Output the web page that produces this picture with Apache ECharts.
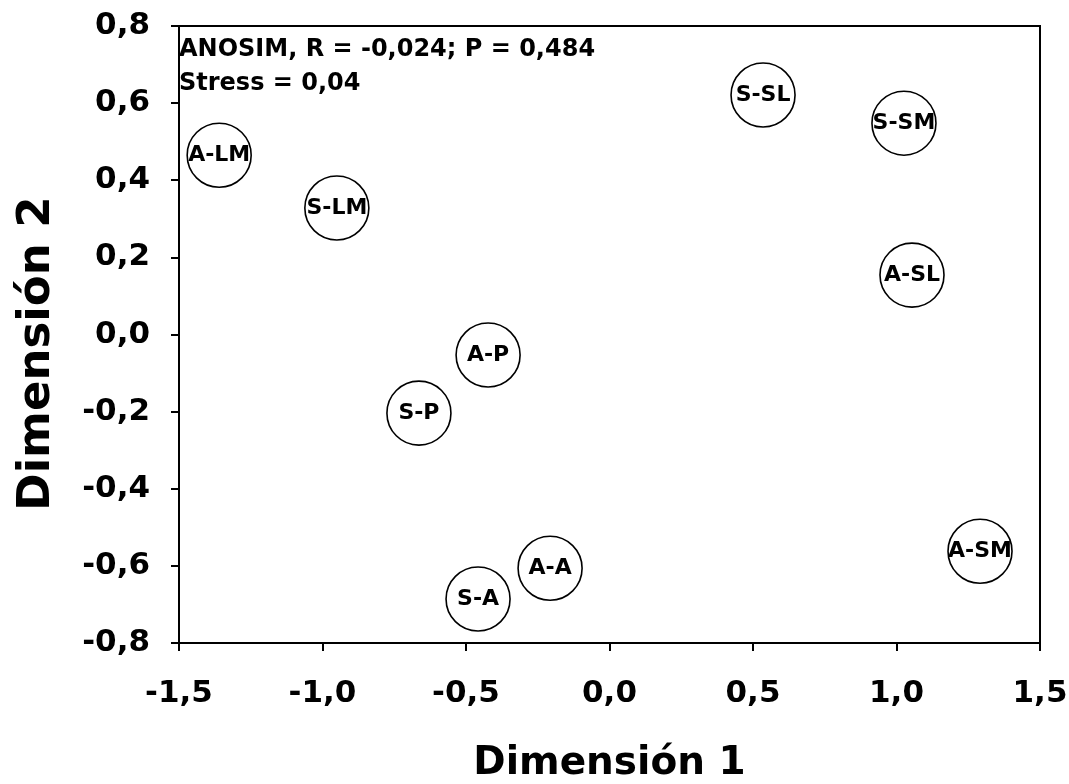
<!DOCTYPE html>
<html>
<head>
<meta charset="utf-8">
<script src="https://cdn.jsdelivr.net/npm/echarts@6/dist/echarts.min.js"></script>
<style>
html,body{margin:0;padding:0;background:#fff;}
#chart{width:1069px;height:784px;}
</style>
</head>
<body>
<div id="chart"></div>
<script>
// Sample labels and NMDS coordinates
const sampleLabels = ['A-LM', 'S-LM', 'S-SL', 'S-SM', 'A-SL', 'A-P', 'S-P', 'A-A', 'S-A', 'A-SM'];
const dim1Values = [-1.36, -0.95, 0.535, 1.026, 1.054, -0.423, -0.664, -0.207, -0.458, 1.291];
const dim2Values = [0.465, 0.328, 0.621, 0.548, 0.154, -0.053, -0.204, -0.606, -0.686, -0.562];

// Axis tick labels
const xTickLabels = ['-1,5', '-1,0', '-0,5', '0,0', '0,5', '1,0', '1,5'];
const yTickLabels = ['-0,8', '-0,6', '-0,4', '-0,2', '0,0', '0,2', '0,4', '0,6', '0,8'];
const xMin = -1.5, xMax = 1.5, xStep = 0.5;
const yMin = -0.8, yMax = 0.8, yStep = 0.2;

// Annotation text
const annotationLines = ['ANOSIM, R = -0,024; P = 0,484', 'Stress = 0,04'];
const xAxisTitle = 'Dimensión 1';
const yAxisTitle = 'Dimensión 2';

const FONT = '"DejaVu Sans", "Liberation Sans", Arial, sans-serif';

const points = sampleLabels.map((name, i) => ({ name: name, value: [dim1Values[i], dim2Values[i]] }));

function tickLabel(arr, min, step) {
  return function (v) {
    const idx = Math.round((v - min) / step);
    return arr[idx] !== undefined ? arr[idx] : '';
  };
}

const chart = echarts.init(document.getElementById('chart'), null, { renderer: 'canvas' });
chart.setOption({
  animation: false,
  backgroundColor: '#ffffff',
  grid: {
    left: 179, right: 29, top: 26, bottom: 141,
    containLabel: false,
    outerBoundsMode: 'none',
    show: true, borderColor: '#000', borderWidth: 2, backgroundColor: 'transparent'
  },
  xAxis: {
    type: 'value',
    min: xMin, max: xMax, interval: xStep,
    name: xAxisTitle,
    nameLocation: 'middle',
    nameGap: 101,
    nameTextStyle: { fontFamily: FONT, fontWeight: 'bold', fontSize: 39, color: '#000' },
    axisLine: { show: true, onZero: false, lineStyle: { color: '#000', width: 2 } },
    axisTick: { show: true, inside: false, length: 8, lineStyle: { color: '#000', width: 2 } },
    axisLabel: {
      margin: 35, color: '#000', fontFamily: FONT, fontWeight: 'bold', fontSize: 31,
      formatter: tickLabel(xTickLabels, xMin, xStep)
    },
    splitLine: { show: false }
  },
  yAxis: {
    type: 'value',
    min: yMin, max: yMax, interval: yStep,
    name: yAxisTitle,
    nameLocation: 'middle',
    nameGap: 119,
    nameRotate: 90,
    nameTextStyle: { fontFamily: FONT, fontWeight: 'bold', fontSize: 45, color: '#000', padding: [0, 38, 0, 0] },
    axisLine: { show: true, onZero: false, lineStyle: { color: '#000', width: 2 } },
    axisTick: { show: true, inside: false, length: 8, lineStyle: { color: '#000', width: 2 } },
    axisLabel: {
      margin: 29, color: '#000', fontFamily: FONT, fontWeight: 'bold', fontSize: 31,
      formatter: tickLabel(yTickLabels, yMin, yStep)
    },
    splitLine: { show: false }
  },
  graphic: [{
    type: 'text',
    left: 179,
    top: 33,
    z: 10,
    style: {
      text: annotationLines.join('\n'),
      font: 'bold 24px ' + FONT,
      lineHeight: 34,
      fill: '#000'
    }
  }],
  series: [{
    type: 'scatter',
    data: points,
    symbol: 'circle',
    symbolSize: 64,
    itemStyle: { color: '#ffffff', borderColor: '#000', borderWidth: 1.6, opacity: 1 },
    label: {
      show: true,
      position: 'inside',
      formatter: '{b}',
      color: '#000',
      fontFamily: FONT,
      fontWeight: 'bold',
      fontSize: 22
    },
    emphasis: { disabled: true }
  }]
});
</script>
</body>
</html>
